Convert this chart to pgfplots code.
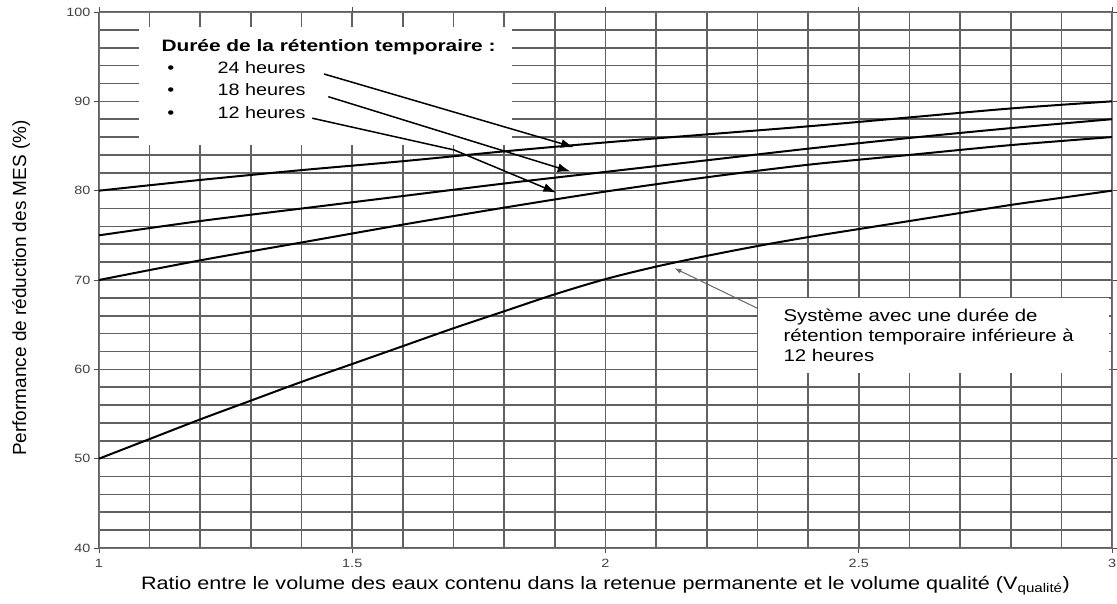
\documentclass[border=0pt]{standalone}
\usepackage{pgfplots}
\pgfplotsset{compat=1.18}
\usepackage{fontspec}
\setmainfont{Liberation Sans}
\usepackage{graphicx}
\usetikzlibrary{arrows.meta}
\newcommand{\hs}[1]{\scalebox{1.2}[1]{#1}}

\begin{document}
\begin{tikzpicture}[x=1pt,y=1pt]
\begin{axis}[
  at={(0,0)}, anchor=south west,
  scale only axis, width=1013pt, height=536pt,
  xmin=1, xmax=3, ymin=40, ymax=100,
  xtick={1,1.5,2,2.5,3},
  xticklabels={\hs{1},\hs{1.5},\hs{2},\hs{2.5},\hs{3}},
  ytick={40,50,60,70,80,90,100},
  yticklabels={\hs{40},\hs{50},\hs{60},\hs{70},\hs{80},\hs{90},\hs{100}},
  minor xtick={1.1,1.2,1.3,1.4,1.6,1.7,1.8,1.9,2.1,2.2,2.3,2.4,2.6,2.7,2.8,2.9},
  minor ytick={42,44,46,48,52,54,56,58,62,64,66,68,72,74,76,78,82,84,86,88,92,94,96,98},
  grid=both,
  major grid style={black!62, line width=1.6pt},
  minor grid style={black!62, line width=1.6pt},
  tick align=outside, major tick length=5pt, minor tick length=0pt,
  axis line style={black!55, line width=0.8pt},
  tick style={black!70, line width=0.8pt},
  tick label style={font=\fontsize{12}{14}\selectfont, text=black!75},
  xticklabel style={yshift=-3pt},
  xlabel={\hs{Ratio entre le volume des eaux contenu dans la retenue permanente et le volume qualité (V\textsubscript{qualité})}},
  ylabel={Performance de réduction des MES (\%)},
  xlabel style={font=\fontsize{18}{21}\selectfont, at={(axis description cs:0.5,0)}, anchor=center, yshift=-38pt},
  ylabel style={font=\fontsize{19}{22}\selectfont, at={(axis description cs:0,0.485)}, anchor=center, yshift=78pt},
]
% white boxes hiding the grid
\fill[white] (axis cs:1.079,98.3) rectangle (axis cs:1.815,85.1);
\fill[white] (axis cs:2.301,67.97) rectangle (axis cs:2.994,59.6);

% curves
\addplot[black, line width=2pt, smooth] coordinates {
(1,80) (1.2,81.2) (1.4,82.3) (1.6,83.3) (1.8,84.4) (2.0,85.4) (2.2,86.3) (2.4,87.2) (2.6,88.2) (2.8,89.2) (3.0,90)};
\addplot[black, line width=2pt, smooth] coordinates {
(1,75) (1.2,76.6) (1.4,78.0) (1.6,79.4) (1.8,80.8) (2.0,82.1) (2.2,83.4) (2.4,84.7) (2.6,85.9) (2.8,87.0) (3.0,88)};
\addplot[black, line width=2pt, smooth] coordinates {
(1,70) (1.2,72.2) (1.4,74.2) (1.6,76.2) (1.8,78.1) (2.0,79.9) (2.2,81.5) (2.4,82.9) (2.6,84.0) (2.8,85.1) (3.0,86)};
\addplot[black, line width=2pt, smooth] coordinates {
(1,50) (1.1,52.2) (1.2,54.4) (1.3,56.5) (1.4,58.6) (1.5,60.6) (1.6,62.6) (1.7,64.6) (1.8,66.5) (1.9,68.4) (2.0,70.1) (2.1,71.5) (2.2,72.7) (2.3,73.8) (2.4,74.8) (2.5,75.7) (2.6,76.6) (2.7,77.5) (2.8,78.4) (2.9,79.2) (3.0,80)};

% legend text
\node[anchor=base west, font=\bfseries\fontsize{16.5}{19}\selectfont] at (axis cs:1.1165,95.56) {\scalebox{1.265}[1]{Durée de la rétention temporaire :}};
\node[anchor=base, font=\fontsize{16.5}{19}\selectfont] at (axis cs:1.1416,93.14) {\hs{•}};
\node[anchor=base, font=\fontsize{16.5}{19}\selectfont] at (axis cs:1.1416,90.60) {\hs{•}};
\node[anchor=base, font=\fontsize{16.5}{19}\selectfont] at (axis cs:1.1416,88.11) {\hs{•}};
\node[anchor=base west, font=\fontsize{16.5}{19}\selectfont] at (axis cs:1.2270,93.14) {\hs{24 heures}};
\node[anchor=base west, font=\fontsize{16.5}{19}\selectfont] at (axis cs:1.2270,90.60) {\hs{18 heures}};
\node[anchor=base west, font=\fontsize{16.5}{19}\selectfont] at (axis cs:1.2270,88.11) {\hs{12 heures}};

% arrows
\draw[black, line width=1.5pt, -{Latex[length=13pt,width=9pt]}] (axis cs:1.4442,93.06) -- (axis cs:1.9378,84.86);
\draw[black, line width=1.5pt, -{Latex[length=13pt,width=9pt]}] (axis cs:1.4527,90.52) -- (axis cs:1.9313,82.13);
\draw[black, line width=1.5pt, -{Latex[length=13pt,width=9pt]}] (axis cs:1.4211,88.11) -- (axis cs:1.7009,84.56) -- (axis cs:1.9029,79.78);
\draw[black!60, line width=1pt, -{Latex[length=7pt,width=5pt]}] (axis cs:2.2997,66.84) -- (axis cs:2.1361,71.32);

% annotation text
\node[anchor=base west, font=\fontsize{17}{20}\selectfont] at (axis cs:2.3445,65.34) {\hs{Système avec une durée de}};
\node[anchor=base west, font=\fontsize{17}{20}\selectfont] at (axis cs:2.3445,63.10) {\hs{rétention temporaire inférieure à}};
\node[anchor=base west, font=\fontsize{17}{20}\selectfont] at (axis cs:2.3445,60.84) {\hs{12 heures}};
\end{axis}
\pgfresetboundingbox
\useasboundingbox (-99pt,-56pt) rectangle (1018pt,548pt);
\end{tikzpicture}
\end{document}
